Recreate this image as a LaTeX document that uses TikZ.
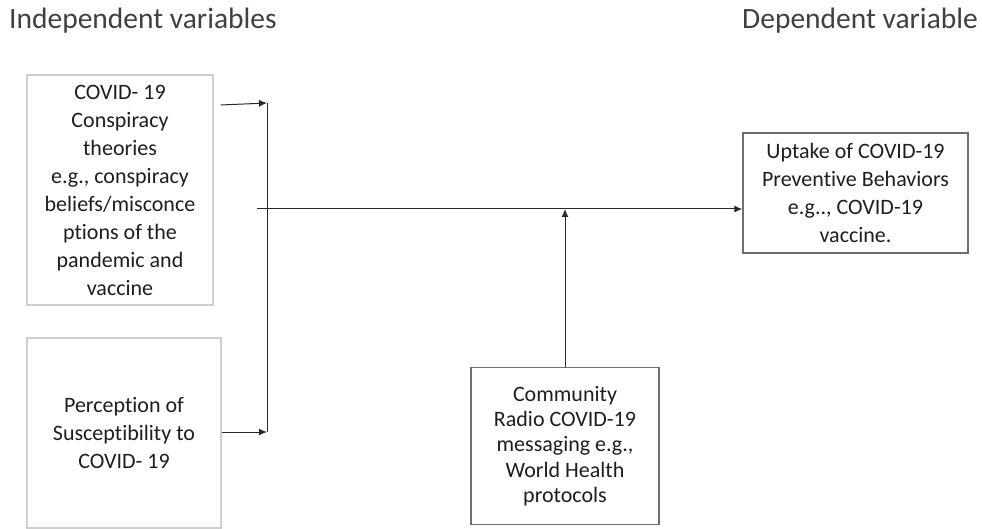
\documentclass[tikz,border=0pt]{standalone}
\usepackage{fontspec}
\setmainfont{Carlito}[Ligatures=NoCommon]
\usetikzlibrary{arrows.meta}
\definecolor{boxlight}{HTML}{CFCFCF}
\definecolor{boxdark}{HTML}{6E6E6E}
\definecolor{inktext}{HTML}{1E1E1E}
\definecolor{headtext}{HTML}{404040}
\definecolor{wire}{HTML}{2A2A2A}
\tikzset{
  varbox/.style={draw=boxlight, line width=1.3pt, align=center, text=inktext,
    inner sep=0pt, font=\fontsize{22}{28}\selectfont},
  depbox/.style={varbox, draw=boxdark},
  heading/.style={text=headtext, inner sep=0pt, font=\fontsize{29.5}{34}\selectfont},
  link/.style={draw=wire, line width=1pt},
  >={Latex[length=8pt,width=7pt]}
}
\begin{document}
\begin{tikzpicture}[x=1pt, y=-1pt]
\useasboundingbox (0,0) rectangle (982,529);

\node[heading, anchor=west] (indep) at (9,21) {Independent variables};
\node[heading, anchor=east] (dep) at (978,21) {Dependent variable};

\node[varbox, minimum width=186pt, minimum height=230pt] (consp) at (120,190)
  {COVID- 19\\Conspiracy\\theories\\e.g., conspiracy\\beliefs/misconce\\ptions of the\\pandemic and\\vaccine};
\node[varbox, minimum width=194pt, minimum height=190pt] (percep) at (124,433)
  {Perception of\\Susceptibility to\\COVID- 19};
\node[depbox, minimum width=188pt, minimum height=157pt,
  font=\fontsize{22}{25.3}\selectfont] (radio) at (565,446)
  {Community\\Radio COVID-19\\messaging e.g.,\\World Health\\protocols};
\node[depbox, minimum width=225pt, minimum height=120pt] (uptake) at (855.5,193)
  {Uptake of COVID-19\\Preventive Behaviors\\e.g.., COVID-19\\vaccine.};

\coordinate (jtop) at (267,103);
\coordinate (jbot) at (267,432);
\coordinate (jmid) at (257,209);

\draw[link, ->] ([xshift=7pt]consp.east |- 0,105) -- (jtop);
\draw[link] (jtop) -- (jbot);
\draw[link, ->] (percep.east |- jbot) -- (jbot);
\draw[link, ->] (jmid) -- (uptake.west |- jmid);
\draw[link, ->] (radio.north) -- (radio.north |- jmid);
\end{tikzpicture}
\end{document}
